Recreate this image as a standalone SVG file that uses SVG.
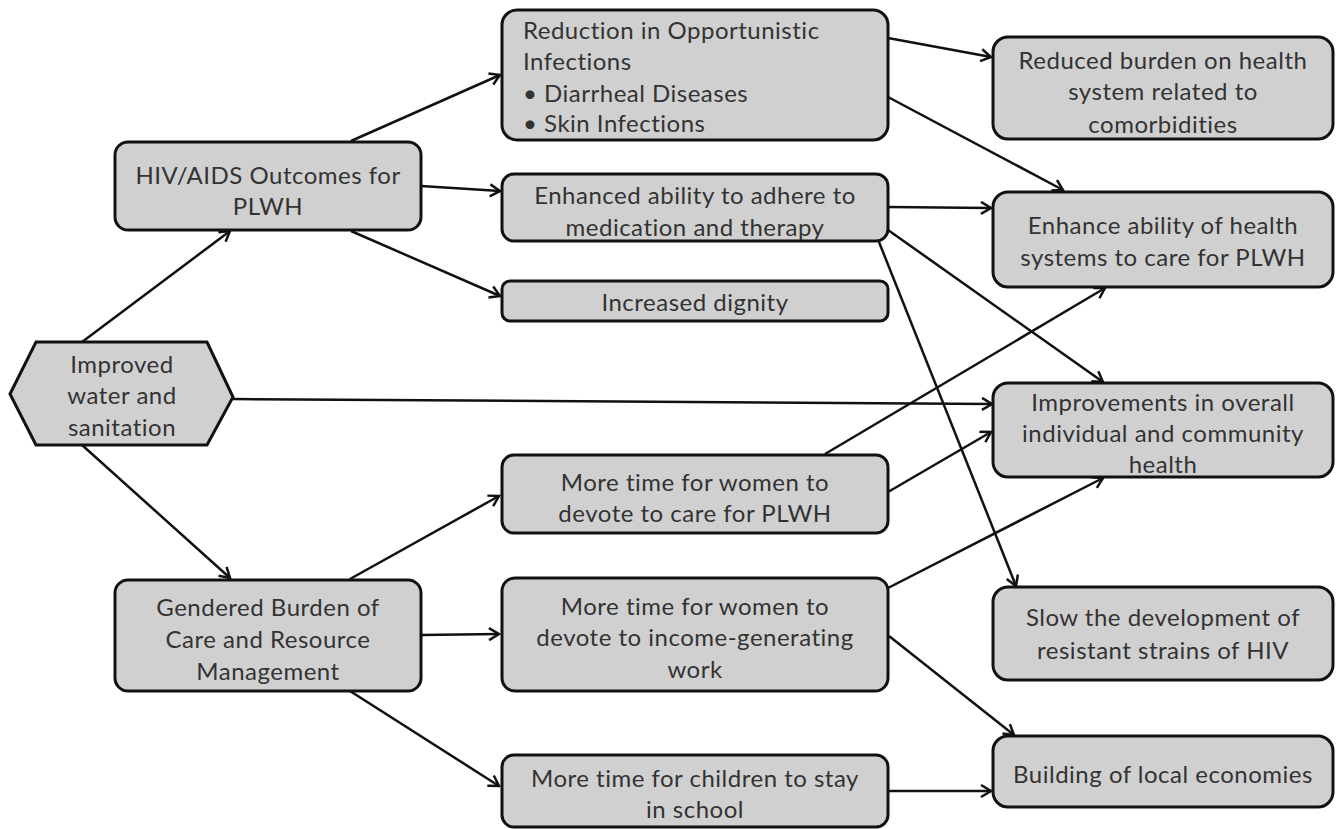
<svg xmlns="http://www.w3.org/2000/svg" width="1342" height="829" viewBox="0 0 1342 829">
<style>
.box{fill:#d0d0d0;stroke:#111;stroke-width:3}
.t{font-family:Lato,"Open Sans","Liberation Sans",sans-serif;font-size:24px;letter-spacing:0.5px;fill:#333;text-anchor:middle}
.l{text-anchor:start}
.c{fill:none;stroke:#111;stroke-width:2.5}
</style>
<defs>
<marker id="a" markerUnits="userSpaceOnUse" markerWidth="16" markerHeight="16" refX="12" refY="7" orient="auto">
<path d="M2,1 L12,7 L2,13" fill="none" stroke="#111" stroke-width="2.5"/>
</marker>
</defs>
<rect width="1342" height="829" fill="#fff"/>
<g id="connectors">
<line class="c" x1="82" y1="342" x2="230" y2="231" marker-end="url(#a)"/>
<line class="c" x1="82" y1="445" x2="230" y2="578" marker-end="url(#a)"/>
<line class="c" x1="233" y1="399" x2="992" y2="404" marker-end="url(#a)"/>
<line class="c" x1="351" y1="141" x2="500" y2="75" marker-end="url(#a)"/>
<line class="c" x1="421" y1="186" x2="500" y2="191" marker-end="url(#a)"/>
<line class="c" x1="351" y1="231" x2="500" y2="296" marker-end="url(#a)"/>
<line class="c" x1="888" y1="38" x2="991" y2="57" marker-end="url(#a)"/>
<line class="c" x1="888" y1="97" x2="1063" y2="190" marker-end="url(#a)"/>
<line class="c" x1="888" y1="207" x2="991" y2="208" marker-end="url(#a)"/>
<line class="c" x1="888" y1="230" x2="1103" y2="382" marker-end="url(#a)"/>
<line class="c" x1="879" y1="242" x2="1016" y2="586" marker-end="url(#a)"/>
<line class="c" x1="825" y1="454" x2="1105" y2="288" marker-end="url(#a)"/>
<line class="c" x1="888" y1="492" x2="991" y2="432" marker-end="url(#a)"/>
<line class="c" x1="350" y1="579" x2="499" y2="496" marker-end="url(#a)"/>
<line class="c" x1="421" y1="635" x2="499" y2="634" marker-end="url(#a)"/>
<line class="c" x1="350" y1="691" x2="499" y2="786" marker-end="url(#a)"/>
<line class="c" x1="888" y1="588" x2="1103" y2="478" marker-end="url(#a)"/>
<line class="c" x1="889" y1="636" x2="1014" y2="735" marker-end="url(#a)"/>
<line class="c" x1="888" y1="791" x2="991" y2="791" marker-end="url(#a)"/>
</g>
<g id="water">
<polygon class="box" points="10,394 36,342 207,342 233,397 207,445 36,445"/>
<text class="t" x="122" y="373">Improved</text>
<text class="t" x="122" y="404">water and</text>
<text class="t" x="122" y="436">sanitation</text>
</g>
<g id="hiv">
<rect class="box" x="115" y="142" width="306" height="88" rx="13"/>
<text class="t" x="268" y="184">HIV/AIDS Outcomes for</text>
<text class="t" x="268" y="215">PLWH</text>
</g>
<g id="gender">
<rect class="box" x="115" y="580" width="306" height="111" rx="13"/>
<text class="t" x="268" y="616">Gendered Burden of</text>
<text class="t" x="268" y="648">Care and Resource</text>
<text class="t" x="268" y="680">Management</text>
</g>
<g id="reduction">
<rect class="box" x="502" y="10" width="386" height="130" rx="15"/>
<text class="t l" x="523" y="39">Reduction in Opportunistic</text>
<text class="t l" x="523" y="70">Infections</text>
<text class="t l" x="523" y="102">• Diarrheal Diseases</text>
<text class="t l" x="523" y="132">• Skin Infections</text>
</g>
<g id="adhere">
<rect class="box" x="502" y="174" width="386" height="67" rx="12"/>
<text class="t" x="695" y="204">Enhanced ability to adhere to</text>
<text class="t" x="695" y="236">medication and therapy</text>
</g>
<g id="dignity">
<rect class="box" x="502" y="281" width="386" height="40" rx="8"/>
<text class="t" x="695" y="311">Increased dignity</text>
</g>
<g id="care">
<rect class="box" x="502" y="455" width="386" height="78" rx="12"/>
<text class="t" x="695" y="491">More time for women to</text>
<text class="t" x="695" y="522">devote to care for PLWH</text>
</g>
<g id="income">
<rect class="box" x="502" y="578" width="386" height="113" rx="13"/>
<text class="t" x="695" y="615">More time for women to</text>
<text class="t" x="695" y="646">devote to income-generating</text>
<text class="t" x="695" y="678">work</text>
</g>
<g id="school">
<rect class="box" x="502" y="755" width="386" height="72" rx="12"/>
<text class="t" x="695" y="787">More time for children to stay</text>
<text class="t" x="695" y="818">in school</text>
</g>
<g id="burden">
<rect class="box" x="993" y="37" width="340" height="102" rx="15"/>
<text class="t" x="1163" y="69">Reduced burden on health</text>
<text class="t" x="1163" y="100">system related to</text>
<text class="t" x="1163" y="133">comorbidities</text>
</g>
<g id="healthsys">
<rect class="box" x="993" y="192" width="340" height="95" rx="15"/>
<text class="t" x="1163" y="234">Enhance ability of health</text>
<text class="t" x="1163" y="266">systems to care for PLWH</text>
</g>
<g id="improve">
<rect class="box" x="993" y="383" width="340" height="94" rx="15"/>
<text class="t" x="1163" y="411">Improvements in overall</text>
<text class="t" x="1163" y="442">individual and community</text>
<text class="t" x="1163" y="473">health</text>
</g>
<g id="slow">
<rect class="box" x="993" y="587" width="340" height="93" rx="15"/>
<text class="t" x="1163" y="626">Slow the development of</text>
<text class="t" x="1163" y="659">resistant strains of HIV</text>
</g>
<g id="economy">
<rect class="box" x="993" y="736" width="340" height="71" rx="15"/>
<text class="t" x="1163" y="783">Building of local economies</text>
</g>
</svg>
